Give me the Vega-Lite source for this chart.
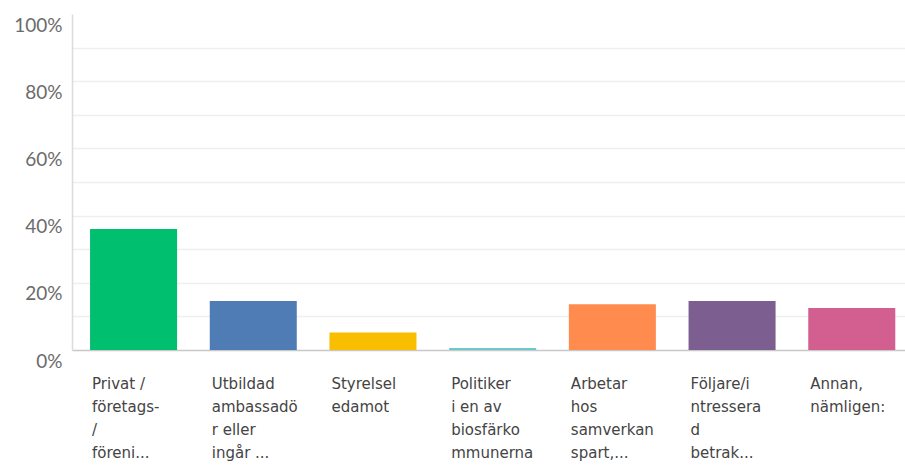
{
  "$schema": "https://vega.github.io/schema/vega-lite/v6.json",
  "autosize": {"type": "none"},
  "width": 833,
  "height": 336,
  "padding": {"left": 72, "top": 14, "right": 0, "bottom": 125},
  "background": "white",
  "data": {
    "values": [
      {"label": "Privat /\nföretags-\n/\nföreni...", "pct": 36.0},
      {"label": "Utbildad\nambassadö\nr eller\ningår ...", "pct": 14.6},
      {"label": "Styrelsel\nedamot", "pct": 5.2},
      {"label": "Politiker\ni en av\nbiosfärko\nmmunerna", "pct": 0.6},
      {"label": "Arbetar\nhos\nsamverkan\nspart,...", "pct": 13.6},
      {"label": "Följare/i\nntressera\nd\nbetrak...", "pct": 14.6},
      {"label": "Annan,\nnämligen:", "pct": 12.5}
    ]
  },
  "config": {"view": {"stroke": null}},
  "mark": {"type": "bar"},
  "encoding": {
    "x": {
      "field": "label",
      "type": "nominal",
      "sort": null,
      "scale": {"paddingInner": 0.273, "paddingOuter": 0.116, "align": 0.65},
      "axis": {
        "title": null,
        "labelAngle": 0,
        "labelAlign": "left",
        "labelBaseline": "top",
        "labelOffset": -41.5,
        "labelPadding": 26,
        "labelExpr": "split(datum.label, '\\n')",
        "labelLineHeight": 23,
        "labelFont": "DejaVu Sans",
        "labelFontSize": 15,
        "labelColor": "#444444",
        "labelLimit": 200,
        "ticks": false,
        "domainColor": "#c8c8c8",
        "domainWidth": 1.5
      }
    },
    "y": {
      "field": "pct",
      "type": "quantitative",
      "scale": {"domain": [0, 100], "nice": false},
      "axis": {
        "title": null,
        "values": [0, 10, 20, 30, 40, 50, 60, 70, 80, 90, 100],
        "labelExpr": "datum.value % 20 == 0 ? datum.value + '%' : ''",
        "labelFont": "Lato",
        "labelFontSize": 19,
        "labelColor": "#6b6b6b",
        "labelOffset": 11,
        "labelPadding": 10,
        "ticks": false,
        "domainColor": "#dcdcdc",
        "domainWidth": 1.5,
        "grid": true,
        "gridColor": "#efefef",
        "gridWidth": 1.5,
        "gridOpacity": {"condition": {"test": "datum.value == 100 || datum.value == 0", "value": 0}, "value": 1}
      }
    },
    "color": {
      "field": "label",
      "type": "nominal",
      "sort": null,
      "legend": null,
      "scale": {
        "range": ["#00bf6f", "#507cb6", "#f9be00", "#6bc8cd", "#ff8b4f", "#7d5e90", "#d25f90"]
      }
    }
  }
}
